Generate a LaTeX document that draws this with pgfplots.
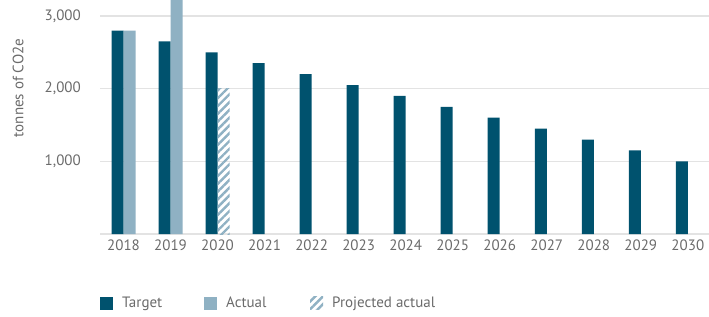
\documentclass[border=0pt]{standalone}
\usepackage{pgfplots}
\pgfplotsset{compat=1.18}
\usepackage{fontspec}
\setmainfont{PT Sans}
\usetikzlibrary{patterns.meta}
\definecolor{tgt}{HTML}{00526E}
\definecolor{act}{HTML}{8FB1C3}
\definecolor{txt}{HTML}{6B6B6B}
\definecolor{grd}{HTML}{E3E3E3}
\begin{document}
\fontsize{15}{17}\selectfont
\begin{tikzpicture}
\path[use as bounding box] (0,0) rectangle (709pt,316pt);
\begin{axis}[
  at={(100pt,82pt)}, anchor=south west,
  width=609pt, height=234pt, scale only axis,
  xmin=-0.5, xmax=12.45, ymin=0, ymax=3220,
  ybar, bar width=12pt,
  xtick={0,...,12},
  xticklabels={2018,2019,2020,2021,2022,2023,2024,2025,2026,2027,2028,2029,2030},
  ytick={0,1000,2000,3000},
  yticklabel={\ifdim\tick pt<1pt\relax\else\pgfmathprintnumber[1000 sep={,}]{\tick}\fi},
  /pgf/number format/assume math mode=true,
  ymajorgrids, grid style={draw=grd, line width=1.4pt},
  axis line style={draw=none},
  major tick length=0pt,
  ticklabel style={font=\fontsize{15}{17}\selectfont, text=txt},
  yticklabel style={xshift=-14pt},
  xticklabel style={yshift=-1pt},
  ylabel={tonnes of CO2e},
  ylabel style={at={(axis description cs:-0.1346,0.624)}, anchor=center, font=\fontsize{15}{17}\selectfont, text=txt},
  clip=true,
  legend columns=3,
  legend style={at={(0,0)}, anchor=west, yshift=-69pt, draw=none, inner sep=0pt,
    font=\fontsize{15}{17}\selectfont, text=txt,
    /tikz/every even column/.append style={column sep=0pt}},
  legend cell align=left,
]
\addplot[fill=tgt, draw=none, bar shift=-6pt,
  legend image code/.code={\fill[tgt] (0pt,-6.5pt) rectangle (13pt,6.5pt);}]
  coordinates {(0,2800)(1,2650)(2,2500)(3,2350)(4,2200)(5,2050)(6,1900)(7,1750)(8,1600)(9,1450)(10,1300)(11,1150)(12,1000)};
\addlegendentry{\hspace*{7pt}\makebox[80pt][l]{Target}}
\addplot[fill=act, draw=none, bar shift=6pt,
  legend image code/.code={\fill[act] (0pt,-6.5pt) rectangle (13pt,6.5pt);}]
  coordinates {(0,2800)(1,3220)};
\addlegendentry{\hspace*{7pt}\makebox[82pt][l]{Actual}}
\addplot[pattern={Lines[angle=45,distance=5.5pt,line width=2.4pt]}, pattern color=act, draw=none, bar shift=6pt,
  legend image code/.code={\path[pattern={Lines[angle=45,distance=5.5pt,line width=2.4pt]}, pattern color=act] (0pt,-6.5pt) rectangle (13pt,6.5pt);}]
  coordinates {(2,2000)};
\addlegendentry{\hspace*{7pt}Projected actual}
\end{axis}
\end{tikzpicture}
\end{document}
